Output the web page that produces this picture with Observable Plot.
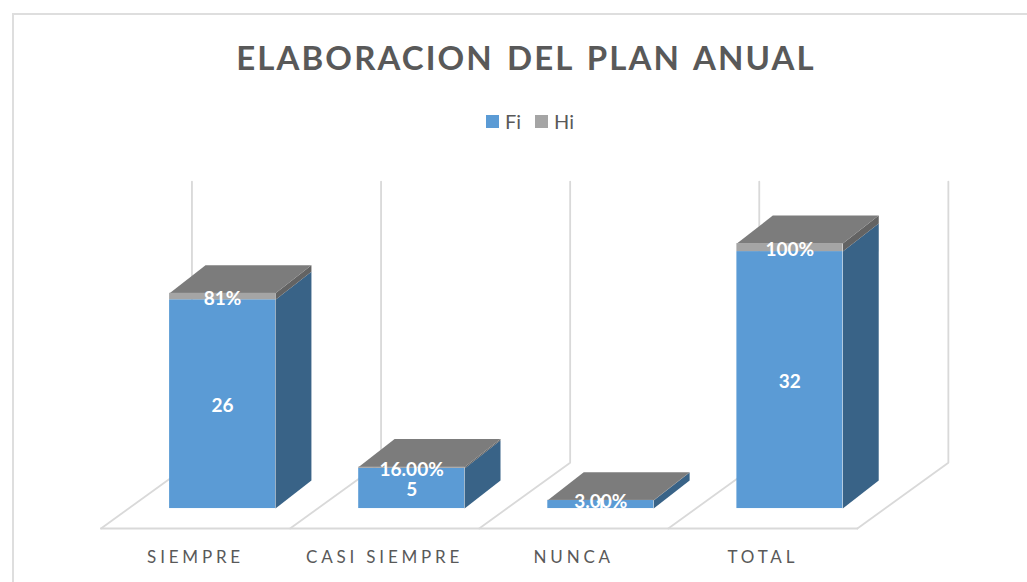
<!DOCTYPE html>
<html><head><meta charset="utf-8">
<script src="https://cdn.jsdelivr.net/npm/d3@7"></script>
<script src="https://cdn.jsdelivr.net/npm/@observablehq/plot@0.6"></script>
<style>
html,body{margin:0;padding:0;background:#fff;overflow:hidden}
#page{position:relative;width:1027px;height:582px;font-family:Lato,sans-serif}
#frame{position:absolute;left:12px;top:13px;right:-4px;bottom:-4px;border:2px solid #dedede}
#title{position:absolute;left:0;top:34px;width:1052px;text-align:center;font-size:33px;line-height:46px;font-weight:700;letter-spacing:2.1px;word-spacing:3px;color:#595959}
#legend{position:absolute;left:486px;top:108px;display:flex;align-items:center;font-size:20px;line-height:27px;color:#595959}
#legend i{display:inline-block;width:13px;height:13px;margin-right:6px}
#legend span{margin-right:14px}
#chart{position:absolute;left:0;top:140px}
.cat text{letter-spacing:3.8px}
</style></head>
<body><div id="page"><div id="frame"></div>
<div id="title">ELABORACION DEL PLAN ANUAL</div>
<div id="legend"></div><div id="chart"></div></div>
<script>
const categories = ["SIEMPRE","CASI SIEMPRE","NUNCA","TOTAL"];
const fi = [26,5,1,32];
const hi = [0.81,0.16,0.03,1];
const hiLabels = ["81%","16.00%","3.00%","100%"];
const seriesNames = ["Fi","Hi"];
const seriesColors = ["#5b9bd5","#a5a5a5"];
const axisMax = 35;

// oblique projection, in data units: slot widths and value units per unit of depth
const depthX = 0.481, depthY = 8.2;
const barLeft = 0.217, barWidth = 0.56, barFront = 0.303;
const boxDepthX = 0.19, boxDepthY = 3.49;
const at = (c, v, d) => ({x: c + d*depthX, y: v + d*depthY});
const atBack = (c, v) => { const p = at(c, v, barFront); return {x: p.x + boxDepthX, y: p.y + boxDepthY}; };

// floor and walls
const gridLines = [];
const n = categories.length;
gridLines.push({id:"front", ...at(0,0,0)}, {id:"front", ...at(n,0,0)});
for (let i=0;i<=n;i++){
  gridLines.push({id:"d"+i, ...at(i,0,0)}, {id:"d"+i, ...at(i,0,1)}, {id:"d"+i, ...at(i,axisMax,1)});
}

// faces of the boxes
function box(c, v0, v1, id){
  const a=c+barLeft, b=a+barWidth;
  return {
    side:[at(b,v0,barFront),atBack(b,v0),atBack(b,v1),at(b,v1,barFront)].map(p=>({...p,id})),
    top:[at(a,v1,barFront),at(b,v1,barFront),atBack(b,v1),atBack(a,v1)].map(p=>({...p,id}))
  };
}
const sideFi=[], sideHi=[], tops=[], fronts=[];
categories.forEach((name,i)=>{
  const f=box(i,0,fi[i],"f"+i), h=box(i,fi[i],fi[i]+hi[i],"h"+i);
  sideFi.push(...f.side); sideHi.push(...h.side); tops.push(...h.top);
  const base=at(i+barLeft,0,barFront), end=i+barLeft+barWidth+barFront*depthX;
  fronts.push({s:"Fi",x1:base.x,x2:end,y1:base.y,y2:base.y+fi[i]});
  fronts.push({s:"Hi",x1:base.x,x2:end,y1:base.y+fi[i],y2:base.y+fi[i]+hi[i]});
});
const labels = categories.map((name,i)=>({
  name, cx:i+barLeft+barWidth/2+barFront*depthX,
  slot:i+0.5,
  fiY:barFront*depthY+fi[i]/2, hiY:barFront*depthY+fi[i]+hi[i]/2,
  fi:String(fi[i]), hi:hiLabels[i]
}));

const face=(data,fill)=>Plot.line(data,{x:"x",y:"y",z:"id",fill,stroke:"none",curve:"linear-closed"});
const slotPx=189.1, floorLeft=100.5, pxPerValue=8.03, floorY=388;

const plot = Plot.plot({
  width:1027, height:442, margin:0,
  x:{domain:[-floorLeft/slotPx,(1027-floorLeft)/slotPx],range:[0,1027],axis:null},
  y:{domain:[0,43.3],range:[floorY,floorY-43.3*pxPerValue],axis:null},
  color:{domain:seriesNames,range:seriesColors},
  style:{background:"transparent",fontFamily:"Lato,sans-serif",overflow:"visible"},
  marks:[
    Plot.line(gridLines,{x:"x",y:"y",z:"id",stroke:"#d9d9d9",strokeWidth:1.8,strokeLinejoin:"miter"}),
    face(sideFi,"#396387"),
    face(sideHi,"#636363"),
    face(tops,"#7c7c7c"),
    Plot.rect(fronts,{x1:"x1",x2:"x2",y1:"y1",y2:"y2",fill:"s"}),
    Plot.text(labels,{x:"cx",y:"fiY",text:"fi",fill:"white",fontSize:19,fontWeight:700,dy:1.5}),
    Plot.text(labels,{x:"cx",y:"hiY",text:"hi",fill:"white",fontSize:19,fontWeight:700,dy:2}),
    Plot.text(labels,{x:"slot",y:()=>0,text:"name",fill:"#595959",fontSize:17,dy:29,className:"cat"})
  ]
});
document.getElementById("chart").appendChild(plot);

const legend=document.getElementById("legend");
seriesNames.forEach((s,i)=>{
  const sw=document.createElement("i"); sw.style.background=seriesColors[i];
  const t=document.createElement("span"); t.textContent=s;
  legend.append(sw,t);
});
</script></body></html>
